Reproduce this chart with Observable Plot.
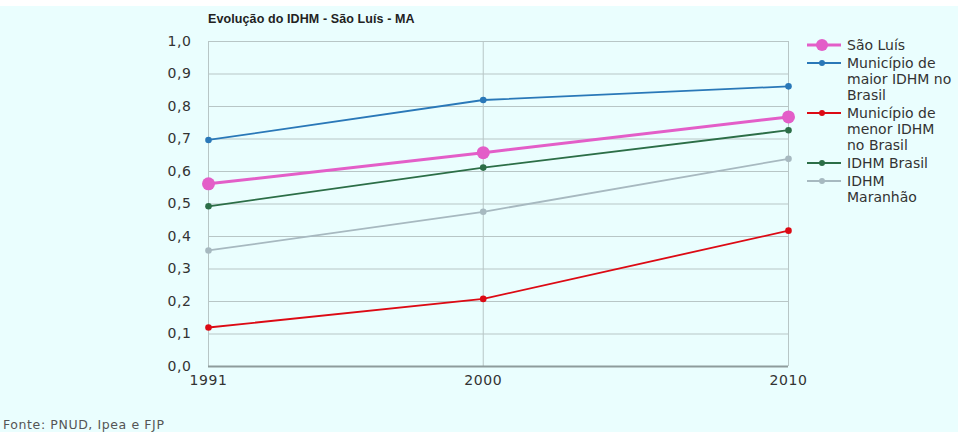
<!DOCTYPE html>
<html>
<head>
<meta charset="utf-8">
<script src="https://cdn.jsdelivr.net/npm/d3@7"></script>
<script src="https://cdn.jsdelivr.net/npm/@observablehq/plot@0.6"></script>
<style>
  html, body { margin: 0; padding: 0; background: #ffffff; }
  #wrap { position: relative; width: 958px; height: 432px; overflow: hidden; background: #ffffff; }
  #bg { position: absolute; left: 0; top: 6px; width: 958px; height: 426px; background: #eafefe; }
  #chart { position: absolute; left: 0; top: 0; }
  #title { position: absolute; left: 208px; top: 12px; font: bold 12.5px "Liberation Sans", Arial, sans-serif; letter-spacing: 0.1px; color: #222; white-space: nowrap; }
  #footer { position: absolute; left: 3px; top: 417px; font: 12.5px "DejaVu Sans", sans-serif; letter-spacing: 0.6px; color: #555; white-space: nowrap; }
  #legend { position: absolute; left: 805px; top: 37px; font: 14px "DejaVu Sans", sans-serif; color: #333; }
  .item { position: relative; margin-bottom: 2px; }
  .item svg { position: absolute; left: 0; top: 0; }
  .item div { margin-left: 42px; line-height: 16px; white-space: nowrap; }
</style>
</head>
<body>
<div id="wrap">
  <div id="bg"></div>
  <div id="chart"></div>
  <div id="title"></div>
  <div id="legend"></div>
  <div id="footer"></div>
</div>
<script>
const title = "Evolução do IDHM - São Luís - MA";
const footer = "Fonte: PNUD, Ipea e FJP";
const years = [1991, 2000, 2010];
const yTicks = [0, 0.1, 0.2, 0.3, 0.4, 0.5, 0.6, 0.7, 0.8, 0.9, 1.0];
const seriesNames = ["São Luís", "Município de maior IDHM no Brasil", "Município de menor IDHM no Brasil", "IDHM Brasil", "IDHM Maranhão"];
const legendLines = [["São Luís"], ["Município de", "maior IDHM no", "Brasil"], ["Município de", "menor IDHM", "no Brasil"], ["IDHM Brasil"], ["IDHM", "Maranhão"]];
const saoLuis = [0.562, 0.658, 0.768];
const maior = [0.697, 0.820, 0.862];
const menor = [0.120, 0.208, 0.418];
const brasil = [0.493, 0.612, 0.727];
const maranhao = [0.357, 0.476, 0.639];
const colors = ["#e35ec8", "#2a78b8", "#dc0a14", "#2c6e47", "#a7b9c0"];

const seriesValues = [saoLuis, maior, menor, brasil, maranhao];
const data = [];
seriesValues.forEach((vals, i) => vals.forEach((v, j) => data.push({series: seriesNames[i], idx: i, year: years[j], value: v})));
const drawOrder = [4, 3, 2, 1, 0];

const marks = [
  Plot.gridY(yTicks, {stroke: "#b8c6c6", strokeOpacity: 1}),
  Plot.gridX(years, {stroke: "#b8c6c6", strokeOpacity: 1}),
  Plot.ruleY([0], {stroke: "#8e9c9c", strokeWidth: 2}),
  Plot.axisY(yTicks, {tickSize: 0, tickPadding: 17, tickFormat: d => d.toFixed(1).replace(".", ","), fontSize: 14, fill: "#333"}),
  Plot.axisX(years, {tickSize: 0, tickPadding: 9, tickFormat: d => String(d), fontSize: 14, fill: "#333"})
];
for (const i of drawOrder) {
  const d = data.filter(r => r.idx === i);
  const big = i === 0;
  marks.push(Plot.line(d, {x: "year", y: "value", stroke: colors[i], strokeWidth: big ? 3 : 1.8}));
  marks.push(Plot.dot(d, {x: "year", y: "value", fill: colors[i], r: big ? 6.5 : 3.3, stroke: "none"}));
}

const chart = Plot.plot({
  width: 958,
  height: 400,
  marginTop: 41,
  marginBottom: 34,
  marginLeft: 208,
  marginRight: 170,
  style: {background: "transparent", fontFamily: "DejaVu Sans, sans-serif", letterSpacing: "0.6px"},
  x: {type: "linear", domain: [1991, 2010], label: null},
  y: {domain: [0, 1], label: null},
  marks
});
document.getElementById("chart").appendChild(chart);
document.getElementById("title").textContent = title;
document.getElementById("footer").textContent = footer;

const legend = document.getElementById("legend");
legendLines.forEach((lines, i) => {
  const item = document.createElement("div");
  item.className = "item";
  const big = i === 0;
  item.innerHTML = `<svg width="40" height="16"><line x1="2" x2="36" y1="8" y2="8" stroke="${colors[i]}" stroke-width="${big ? 3 : 2}"/><circle cx="17" cy="8" r="${big ? 6 : 3}" fill="${colors[i]}"/></svg><div>${lines.join("<br>")}</div>`;
  legend.appendChild(item);
});
</script>
</body>
</html>
